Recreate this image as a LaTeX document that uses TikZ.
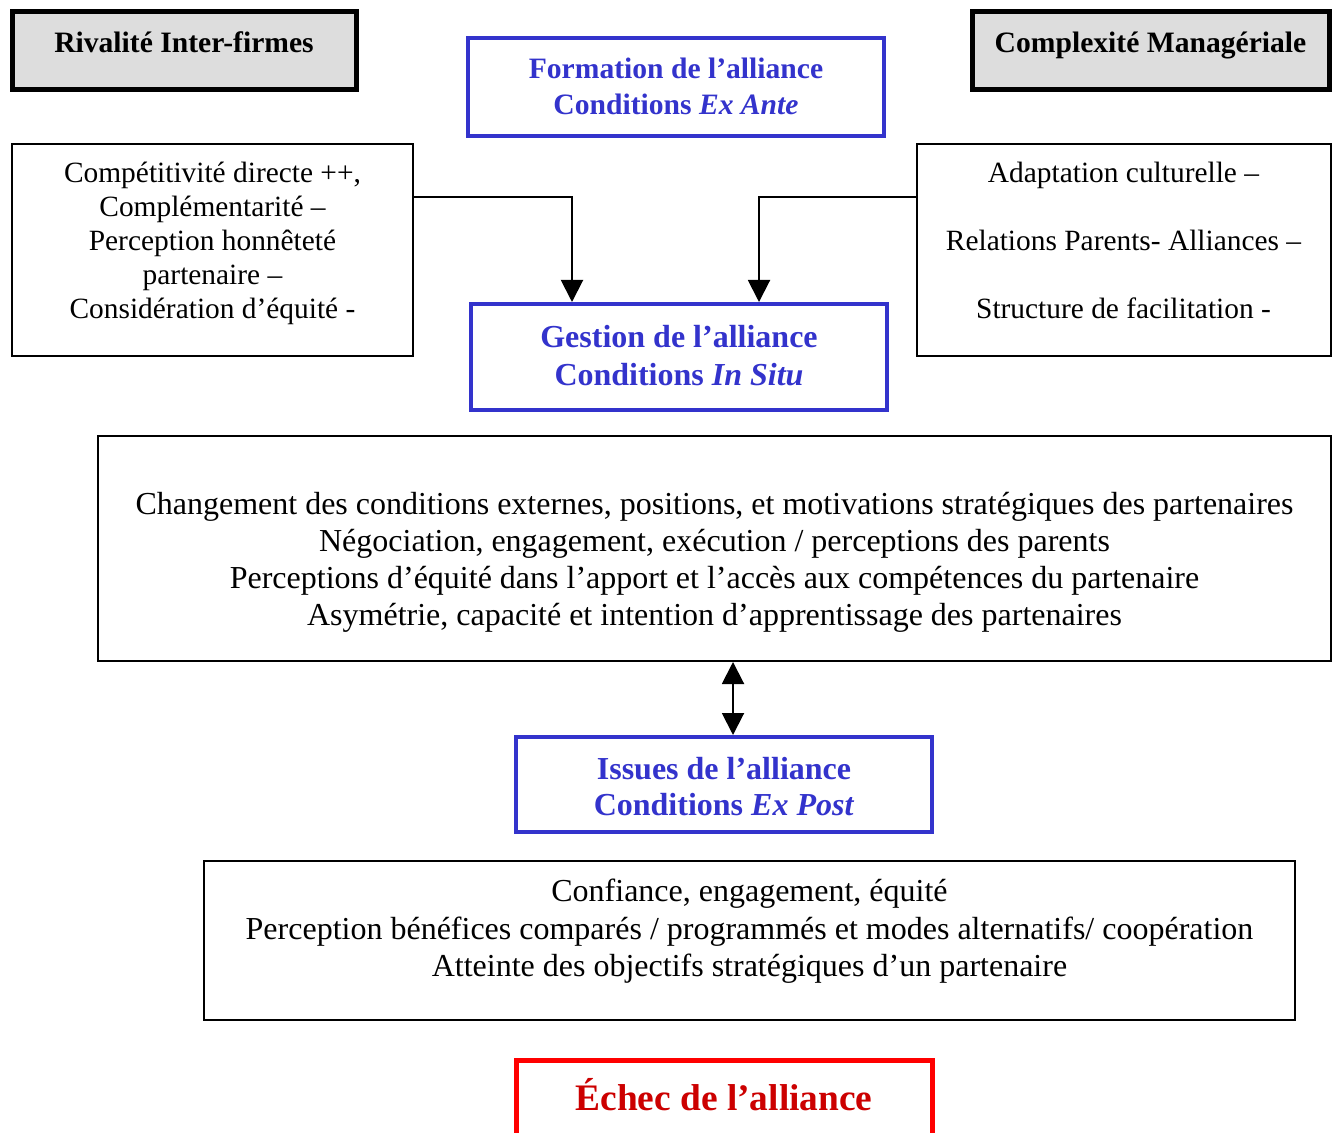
\documentclass[tikz,border=0pt]{standalone}
\usepackage{fontspec}
\setmainfont{Liberation Serif}
\usetikzlibrary{arrows.meta}
\definecolor{alliblue}{HTML}{3333CC}
\definecolor{titlegray}{HTML}{DDDDDD}
\definecolor{failred}{HTML}{FF0000}
\definecolor{failtext}{HTML}{CC0000}
% #1 raise, #2 font size, #3 line distance, #4 centred rows
% (zero height and depth, so the raise is kept inside a fixed-size node)
\newcommand\boxtext[4]{%
  \raisebox{#1}[0pt][0pt]{\fontsize{#2}{#3}\selectfont\begin{tabular}{@{}c@{}}#4\end{tabular}}}
\begin{document}
\begin{tikzpicture}[x=0.5pt,y=-0.5pt,
  box/.style={draw, rectangle, inner sep=0pt, text=black},
  titlebox/.style={box, line width=2.5pt, fill=titlegray},
  stagebox/.style={box, line width=2pt, draw=alliblue, text=alliblue, fill=white},
  plainbox/.style={box, line width=1pt},
  failbox/.style={box, line width=2.5pt, draw=failred, text=failtext},
  link/.style={line width=1pt, -{Triangle[length=11pt,width=11pt]}},
  twoway/.style={line width=1pt,
    {Triangle[length=11pt,width=11pt]}-{Triangle[length=11pt,width=11pt]}}
]
\useasboundingbox (0,0) rectangle (1332,1133);
\fill[white] (0,0) rectangle (1332,1133);

% side headings
\node[titlebox, minimum width=172pt, minimum height=39pt] (riv) at (184,51)
  {\boxtext{-0.7pt}{14.8pt}{18pt}{\bfseries Rivalité Inter-firmes}};
\node[titlebox, minimum width=178.5pt, minimum height=39pt] (comp) at (1150.5,51)
  {\boxtext{-0.7pt}{14.8pt}{18pt}{\bfseries Complexité Managériale}};

% alliance stages
\node[stagebox, minimum width=208pt, minimum height=49pt] (form) at (676,87)
  {\boxtext{-4.7pt}{14.8pt}{18pt}{\bfseries Formation de l’alliance\\ \bfseries Conditions \textit{Ex Ante}}};
\node[stagebox, minimum width=208pt, minimum height=53pt] (gest) at (679,357)
  {\boxtext{-5.3pt}{16pt}{19pt}{\bfseries Gestion de l’alliance\\ \bfseries Conditions \textit{In Situ}}};
\node[stagebox, minimum width=208pt, minimum height=47.5pt] (issues) at (724,784.5)
  {\boxtext{-7pt}{16pt}{18pt}{\bfseries Issues de l’alliance\\ \bfseries Conditions \textit{Ex Post}}};
\node[failbox, minimum width=208pt, minimum height=38pt] (fail) at (724,1098)
  {\boxtext{-5.7pt}{18.7pt}{22pt}{\bfseries Échec de l’alliance}};

% factor lists
\node[plainbox, minimum width=200.5pt, minimum height=106pt] (left) at (212.5,250)
  {\boxtext{-0.7pt}{14.7pt}{17pt}{Compétitivité directe ++,\\ Complémentarité –\\ Perception honnêteté\\ partenaire –\\ Considération d’équité -}};
\node[plainbox, minimum width=207pt, minimum height=106pt] (right) at (1123.5,250)
  {\boxtext{-0.7pt}{14.7pt}{17pt}{Adaptation culturelle –\\ \\ Relations Parents- Alliances –\\ \\ Structure de facilitation -}};
\node[plainbox, minimum width=616.5pt, minimum height=112.5pt] (mid) at (714.5,548.5)
  {\boxtext{-11.5pt}{16pt}{18.5pt}{Changement des conditions externes, positions, et motivations stratégiques des partenaires\\
   Négociation, engagement, exécution / perceptions des parents\\
   Perceptions d’équité dans l’apport et l’accès aux compétences du partenaire\\
   Asymétrie, capacité et intention d’apprentissage des partenaires}};
\node[plainbox, minimum width=545.5pt, minimum height=79.5pt] (out) at (749.5,940.5)
  {\boxtext{0pt}{16pt}{18.75pt}{Confiance, engagement, équité\\
   Perception bénéfices comparés / programmés et modes alternatifs/ coopération\\
   Atteinte des objectifs stratégiques d’un partenaire}};

% connectors
\draw[link] ([yshift=26.5pt]left.east) -| ([xshift=-53.5pt]gest.north);
\draw[link] ([yshift=26.5pt]right.west) -| ([xshift=40pt]gest.north);
\draw[twoway] ([xshift=4.5pt]issues.north |- mid.south) -- ([xshift=4.5pt]issues.north);
\end{tikzpicture}
\end{document}
